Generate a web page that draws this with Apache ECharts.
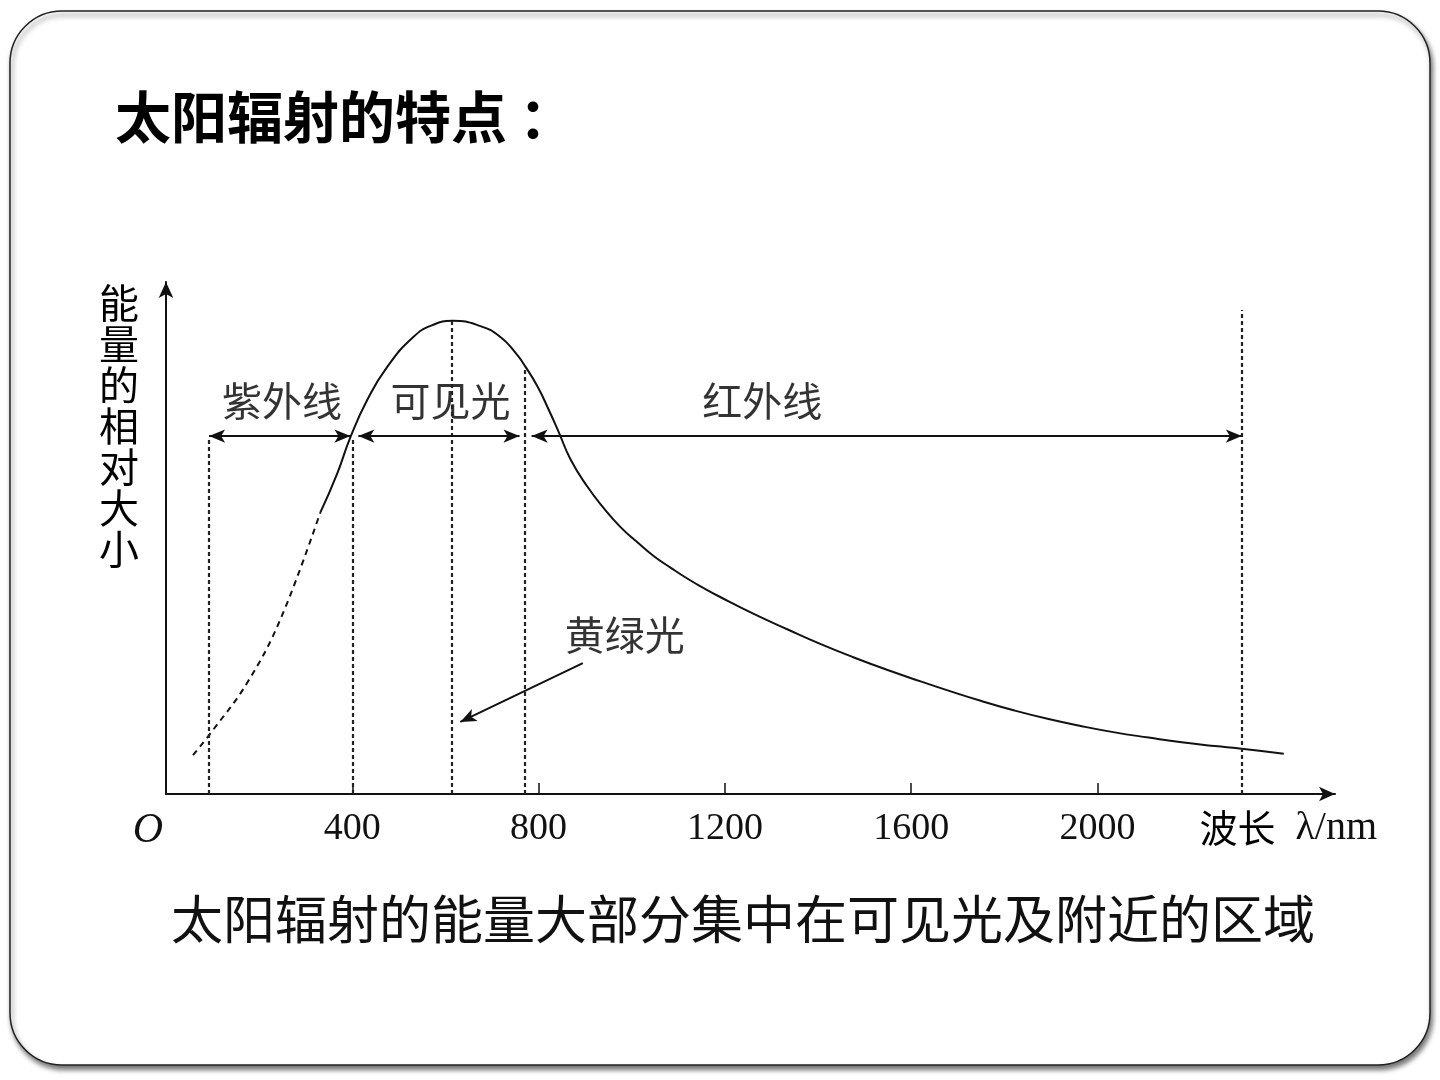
<!DOCTYPE html>
<html>
<head>
<meta charset="utf-8">
<title>太阳辐射的特点</title>
<script src="https://cdn.jsdelivr.net/npm/echarts@6/dist/echarts.min.js"></script>
<style>
  html, body { margin: 0; padding: 0; background: #fff; }
  #chart { width: 1440px; height: 1080px; }
</style>
</head>
<body>
<div id="chart"></div>
<script>
// wavelength (nm) / relative energy
const wavelengthTicks = [0, 400, 800, 1200, 1600, 2000];
const tickMarks = [400, 800, 1200, 1600, 2000];

// dashed (extrapolated) part of the curve on the UV side
const uvCurve = [[58, 8.2], [101, 13.5], [174, 23.4], [245, 36.7], [331, 59.3]];
// solid part of the curve
const mainCurve = [
  [331, 59.3], [368, 67.7], [396, 75.3], [432, 83.1], [475, 90.1], [531, 96.4],
  [572, 98.9], [615, 99.8], [675, 98.7], [718, 96.4], [751, 93.0], [772, 90.1],
  [798, 85.9], [822, 81.0], [843, 76.4], [869, 70.5], [905, 64.8], [940, 60.3],
  [976, 56.3], [1011, 53.2], [1047, 50.2], [1084, 47.7], [1120, 45.4],
  [1155, 43.4], [1191, 41.5], [1262, 38.0], [1335, 34.7], [1406, 31.6],
  [1477, 28.8], [1551, 26.1], [1622, 23.7], [1680, 21.8], [1751, 19.6],
  [1822, 17.6], [1895, 15.8], [1966, 14.3], [2037, 13.0], [2110, 11.9],
  [2181, 10.9], [2252, 10.1], [2305, 9.6], [2400, 8.5]
];

// vertical dashed boundaries: [wavelength, top]
const boundaries = [[92.5, 75.1], [400, 75.3], [613, 99.8], [770, 90.1], [2310, 102.1]];

// band arrows: [from, to]
const arrowLevel = 75.5;
const bandRanges = [[92.5, 396], [413, 759], [785, 2310]];
const bandNames = ['紫外线', '可见光', '红外线'];
const bandLabelX = [249, 611, 1280];
const bandLabelLevel = 82.9;

// 黄绿光 pointer
const pointerName = '黄绿光';
const pointerLabel = [985, 33.5];
const pointerFrom = [895, 27.6];
const pointerTo = [632, 15.2];

const cjk = '"Noto Sans CJK SC", sans-serif';
const serif = '"Liberation Serif", "DejaVu Serif", serif';

let chart = echarts.init(document.getElementById('chart'));

let boundaryLines = boundaries.map((b) => [
  { coord: [b[0], 0], symbol: 'none' },
  { coord: [b[0], b[1]], symbol: 'none' },
]);

let arrowLines = bandRanges.map((r) => [
  { coord: [r[0], arrowLevel], symbol: 'arrow' },
  { coord: [r[1], arrowLevel], symbol: 'arrow' },
]);
arrowLines.push([
  { coord: pointerFrom, symbol: 'none' },
  { coord: pointerTo, symbol: 'arrow' },
]);

let labelData = bandNames.map((n, i) => ({ name: n, value: [bandLabelX[i], bandLabelLevel] }));
labelData.push({ name: pointerName, value: pointerLabel });

let option = {
  animation: false,
  backgroundColor: '#fff',
  title: [
    {
      text: '{t|太阳辐射的特点}{c|：}',
      left: 110,
      top: 84,
      textStyle: {
        rich: {
          t: { fontFamily: cjk, fontSize: 56, fontWeight: 'bold', color: '#000' },
          c: { fontFamily: cjk, fontSize: 56, fontWeight: 'bold', color: '#000', padding: [0, 0, 0, 12] },
        },
      },
    },
    {
      text: '太阳辐射的能量大部分集中在可见光及附近的区域',
      left: 166,
      top: 888,
      textStyle: { fontFamily: cjk, fontSize: 52, fontWeight: 'normal', color: '#111' },
    },
  ],
  graphic: [
    {
      type: 'rect',
      z: -10,
      shape: { x: 10, y: 11, width: 1420, height: 1054, r: 52 },
      style: {
        fill: '#fff',
        stroke: '#222',
        lineWidth: 1.5,
        shadowColor: 'rgba(0,0,0,0.55)',
        shadowBlur: 5,
        shadowOffsetX: 2,
        shadowOffsetY: 4,
      },
    },
  ],
  grid: {
    left: 166,
    right: 105,
    top: 282,
    bottom: 286,
    outerBoundsMode: 'none',
  },
  xAxis: {
    type: 'value',
    min: 0,
    max: 2510,
    interval: 400,
    name: '{a|波长}{b|λ/nm}',
    nameLocation: 'end',
    nameGap: 42,
    nameTextStyle: {
      align: 'right',
      verticalAlign: 'top',
      padding: [14, 0, 0, 0],
      rich: {
        a: { fontFamily: cjk, fontSize: 38, color: '#000' },
        b: { fontFamily: serif, fontSize: 40, color: '#111', padding: [0, 0, 0, 20] },
      },
    },
    axisLine: {
      lineStyle: { color: '#111', width: 2 },
      symbol: ['none', 'arrow'],
      symbolSize: [11, 16],
    },
    axisTick: {
      show: true,
      inside: true,
      length: 11,
      customValues: tickMarks,
      lineStyle: { color: '#111', width: 1.5 },
    },
    axisLabel: {
      customValues: wavelengthTicks,
      margin: 16,
      fontFamily: serif,
      fontSize: 38,
      color: '#111',
      formatter: (v) => (v === 0 ? '{o|O}' : String(v)),
      rich: {
        o: { fontFamily: serif, fontStyle: 'italic', fontSize: 42, color: '#111', padding: [0, 36, 0, 0] },
      },
    },
    splitLine: { show: false },
  },
  yAxis: {
    type: 'value',
    min: 0,
    max: 108,
    name: '能量的相对大小'.split('').join('\n'),
    nameLocation: 'end',
    nameGap: 0,
    nameTextStyle: {
      align: 'right',
      verticalAlign: 'top',
      fontFamily: cjk,
      fontSize: 40,
      lineHeight: 41,
      color: '#000',
      padding: [0, 27, 0, 0],
    },
    axisLine: {
      show: true,
      lineStyle: { color: '#111', width: 2 },
      symbol: ['none', 'arrow'],
      symbolSize: [11, 16],
    },
    axisTick: { show: false },
    axisLabel: { show: false },
    splitLine: { show: false },
  },
  series: [
    {
      name: '紫外线段',
      type: 'line',
      data: uvCurve,
      smooth: 0.4,
      symbol: 'none',
      lineStyle: { color: '#111', width: 2, type: [6, 5] },
      markLine: {
        silent: true,
        symbol: 'none',
        label: { show: false },
        lineStyle: { color: '#222', width: 2.2, type: [4, 3] },
        data: boundaryLines,
      },
    },
    {
      name: '能量',
      type: 'line',
      data: mainCurve,
      smooth: 0.5,
      symbol: 'none',
      lineStyle: { color: '#111', width: 2 },
      markLine: {
        silent: true,
        symbolSize: [10, 16],
        label: { show: false },
        lineStyle: { color: '#111', width: 2, type: 'solid' },
        data: arrowLines,
      },
    },
    {
      name: '标注',
      type: 'scatter',
      data: labelData,
      symbolSize: 0,
      silent: true,
      label: {
        show: true,
        position: 'inside',
        formatter: '{b}',
        fontFamily: cjk,
        fontSize: 40,
        color: '#000',
      },
    },
  ],
};

chart.setOption(option);
window.addEventListener('resize', () => {
  chart.resize();
});
</script>
</body>
</html>
